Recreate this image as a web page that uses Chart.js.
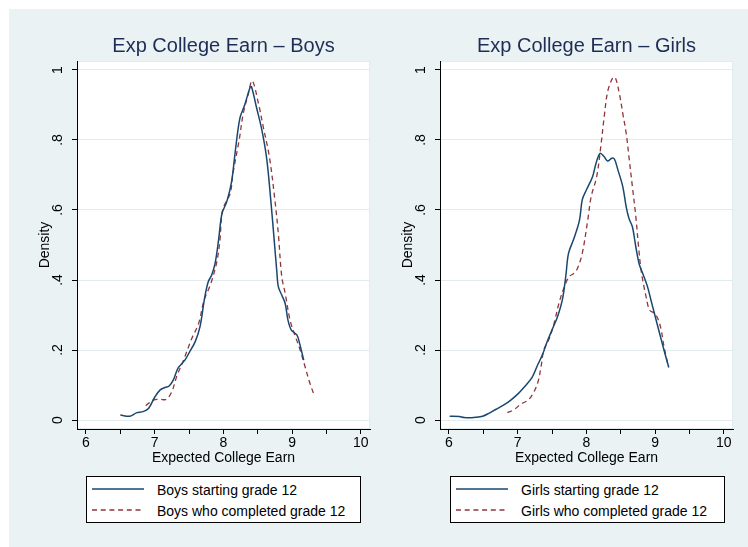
<!DOCTYPE html>
<html>
<head>
<meta charset="utf-8">
<script src="https://cdn.jsdelivr.net/npm/chart.js@4/dist/chart.umd.min.js"></script>
<style>
html,body{margin:0;padding:0;background:#fff;width:748px;height:547px;overflow:hidden;font-family:"Liberation Sans",Arial,sans-serif}
#bg{position:absolute;left:9px;top:9px;width:739px;height:538px;background:#EAF2F3}
canvas{position:absolute;top:9px}
.legend{position:absolute;top:476px;height:45px;width:273px;border:1px solid #000;background:#fff}
.legend svg{position:absolute;left:5px}
.legend span{position:absolute;left:70px;font-size:14px;line-height:16px;color:#000;white-space:nowrap}
</style>
</head>
<body>
<div id="bg"></div>
<canvas id="c1" width="365" height="461" style="left:9px"></canvas>
<canvas id="c2" width="365" height="461" style="left:372px"></canvas>
<div class="legend" id="lg1" style="left:86px"></div>
<div class="legend" id="lg2" style="left:450px"></div>
<script>
// ---------- data ----------
const panelTitles = ['Exp College Earn \u2013 Boys', 'Exp College Earn \u2013 Girls'];
const xAxisTitle = 'Expected College Earn';
const yAxisTitle = 'Density';
const xTickLabels = ['6', '7', '8', '9', '10'];
const yTickLabels = ['0', '.2', '.4', '.6', '.8', '1'];
const seriesLabels = [
  ['Boys starting grade 12', 'Boys who completed grade 12'],
  ['Girls starting grade 12', 'Girls who completed grade 12']
];

const boysStartX = [6.50, 6.64, 6.74, 6.83, 6.91, 7.00, 7.08, 7.15, 7.21, 7.27, 7.34, 7.44, 7.51, 7.59, 7.66, 7.73, 7.78, 7.83, 7.88, 7.93, 7.98, 8.05, 8.12, 8.17, 8.24, 8.31, 8.39, 8.41, 8.48, 8.56, 8.63, 8.69, 8.74, 8.78, 8.80, 8.85, 8.90, 8.94, 8.99, 9.07, 9.11, 9.17];
const boysStartY = [0.014, 0.011, 0.021, 0.024, 0.033, 0.065, 0.086, 0.093, 0.097, 0.114, 0.148, 0.171, 0.195, 0.224, 0.267, 0.352, 0.395, 0.414, 0.448, 0.514, 0.590, 0.624, 0.681, 0.762, 0.862, 0.900, 0.951, 0.952, 0.895, 0.829, 0.748, 0.629, 0.514, 0.420, 0.381, 0.357, 0.333, 0.286, 0.257, 0.243, 0.219, 0.171];

const boysDoneX = [6.87, 6.98, 7.08, 7.17, 7.25, 7.32, 7.42, 7.54, 7.64, 7.72, 7.80, 7.85, 7.91, 7.95, 7.99, 8.10, 8.14, 8.23, 8.29, 8.36, 8.42, 8.51, 8.58, 8.67, 8.75, 8.80, 8.85, 8.90, 8.97, 9.04, 9.11, 9.19, 9.26, 9.33];
const boysDoneY = [0.041, 0.057, 0.059, 0.059, 0.081, 0.124, 0.171, 0.233, 0.276, 0.343, 0.381, 0.410, 0.457, 0.514, 0.600, 0.648, 0.705, 0.800, 0.876, 0.929, 0.969, 0.905, 0.838, 0.752, 0.629, 0.533, 0.410, 0.362, 0.286, 0.243, 0.205, 0.152, 0.105, 0.067];

const girlsStartX = [6.01, 6.15, 6.22, 6.36, 6.49, 6.58, 6.68, 6.80, 6.90, 7.00, 7.09, 7.21, 7.29, 7.36, 7.43, 7.51, 7.58, 7.65, 7.70, 7.74, 7.82, 7.90, 7.94, 8.00, 8.09, 8.14, 8.20, 8.26, 8.31, 8.37, 8.41, 8.46, 8.53, 8.58, 8.62, 8.67, 8.72, 8.77, 8.82, 8.89, 8.94, 8.99, 9.06, 9.13, 9.20];
const girlsStartY = [0.011, 0.010, 0.007, 0.007, 0.011, 0.019, 0.030, 0.043, 0.057, 0.074, 0.093, 0.122, 0.157, 0.186, 0.224, 0.262, 0.295, 0.343, 0.410, 0.476, 0.519, 0.571, 0.629, 0.657, 0.695, 0.733, 0.762, 0.752, 0.740, 0.748, 0.745, 0.714, 0.667, 0.609, 0.576, 0.552, 0.495, 0.445, 0.419, 0.381, 0.343, 0.305, 0.252, 0.200, 0.150];

const girlsDoneX = [6.85, 6.95, 7.05, 7.14, 7.21, 7.29, 7.34, 7.38, 7.46, 7.53, 7.60, 7.68, 7.75, 7.82, 7.87, 7.94, 8.02, 8.07, 8.15, 8.21, 8.26, 8.31, 8.38, 8.42, 8.48, 8.53, 8.58, 8.62, 8.67, 8.72, 8.76, 8.79, 8.82, 8.87, 8.92, 8.99, 9.04, 9.09, 9.13, 9.19];
const girlsDoneY = [0.021, 0.030, 0.046, 0.055, 0.071, 0.105, 0.152, 0.200, 0.233, 0.276, 0.333, 0.381, 0.410, 0.419, 0.433, 0.476, 0.571, 0.638, 0.695, 0.781, 0.867, 0.938, 0.976, 0.979, 0.933, 0.876, 0.819, 0.752, 0.667, 0.581, 0.495, 0.438, 0.400, 0.352, 0.314, 0.305, 0.290, 0.257, 0.210, 0.157];

// ---------- styling ----------
const FONT = '"Liberation Sans", Arial, Helvetica, sans-serif';
Chart.defaults.font.family = FONT;
const NAVY = '#1A476F';
const MAROON = '#90353B';
const GRID = '#E2ECEE';
const TITLE_COLOR = '#1E2D55';
const DASH = [5, 3.7];

const toPts = (xs, ys) => xs.map((x, i) => ({x: x, y: ys[i]}));

const plotBg = {
  id: 'plotBg',
  beforeDraw(chart) {
    const a = chart.chartArea, ctx = chart.ctx;
    ctx.save();
    ctx.fillStyle = '#fff';
    ctx.fillRect(a.left, a.top, a.right - a.left, a.bottom - a.top);
    ctx.strokeStyle = GRID;
    ctx.lineWidth = 1;
    ctx.strokeRect(a.left + 0.5, a.top + 0.5, a.right - a.left - 1, a.bottom - a.top - 1);
    ctx.restore();
  }
};

function makeChart(id, title, labels, startPts, donePts) {
  return new Chart(document.getElementById(id), {
    type: 'line',
    data: {
      datasets: [
        {label: labels[0], data: startPts, borderColor: NAVY, borderWidth: 1.5, pointRadius: 0, tension: 0.35, fill: false},
        {label: labels[1], data: donePts, borderColor: MAROON, borderWidth: 1.3, borderDash: DASH, pointRadius: 0, tension: 0.35, fill: false}
      ]
    },
    options: {
      responsive: false,
      animation: false,
      devicePixelRatio: 1,
      layout: {padding: {left: 0, right: 4, top: 0, bottom: 0}},
      plugins: {
        legend: {display: false},
        tooltip: {enabled: false},
        title: {display: true, text: title, fullSize: false, color: TITLE_COLOR,
                font: {size: 20, weight: 'normal', family: FONT}, padding: {top: 25.4, bottom: 2.6}}
      },
      scales: {
        x: {
          type: 'linear', min: 5.869, max: 10.135,
          afterFit: s => { s.height = 41; },
          border: {display: true, color: '#000', width: 1},
          grid: {drawOnChartArea: false, drawTicks: true, tickLength: 5, tickColor: '#000', tickWidth: 1},
          ticks: {stepSize: 0.5, includeBounds: false, autoSkip: false, minRotation: 0, maxRotation: 0, padding: 1,
                  color: '#000', font: {size: 14, family: FONT},
                  callback: v => Math.abs(v - Math.round(v)) < 1e-6 ? xTickLabels[Math.round(v) - 6] : ''},
          title: {display: true, text: xAxisTitle, color: '#000', font: {size: 14, family: FONT}, padding: {top: 0, bottom: 3.4}}
        },
        y: {
          type: 'linear', min: -0.0257, max: 1.0257,
          afterFit: s => { s.width = 68; },
          border: {display: true, color: '#000', width: 1},
          grid: {color: GRID, lineWidth: 1, drawTicks: true, tickLength: 5, tickColor: '#000', tickWidth: 1},
          ticks: {stepSize: 0.2, includeBounds: false, minRotation: 90, maxRotation: 90, crossAlign: 'center', padding: 8,
                  color: '#000', font: {size: 14, family: FONT},
                  callback: v => yTickLabels[Math.round(v / 0.2)]},
          title: {display: true, text: yAxisTitle, color: '#000', font: {size: 14, family: FONT}, padding: {top: 27.6, bottom: 0}}
        }
      }
    },
    plugins: [plotBg]
  });
}

makeChart('c1', panelTitles[0], seriesLabels[0], toPts(boysStartX, boysStartY), toPts(boysDoneX, boysDoneY));
makeChart('c2', panelTitles[1], seriesLabels[1], toPts(girlsStartX, girlsStartY), toPts(girlsDoneX, girlsDoneY));

// ---------- boxed legends ----------
function buildLegend(id, labels) {
  const el = document.getElementById(id);
  const rows = [{y: 12, t: 4.6, color: NAVY, dash: null, w: 1.5}, {y: 33, t: 25.6, color: MAROON, dash: DASH, w: 1.3}];
  rows.forEach((r, i) => {
    const svg = document.createElementNS('http://www.w3.org/2000/svg', 'svg');
    svg.setAttribute('width', '53'); svg.setAttribute('height', '6');
    svg.style.top = (r.y - 3) + 'px';
    const ln = document.createElementNS('http://www.w3.org/2000/svg', 'line');
    ln.setAttribute('x1', '0'); ln.setAttribute('x2', '52');
    ln.setAttribute('y1', '3'); ln.setAttribute('y2', '3');
    ln.setAttribute('stroke', r.color); ln.setAttribute('stroke-width', String(r.w));
    if (r.dash) ln.setAttribute('stroke-dasharray', r.dash.join(' '));
    svg.appendChild(ln);
    el.appendChild(svg);
    const sp = document.createElement('span');
    sp.textContent = labels[i];
    sp.style.top = r.t + 'px';
    el.appendChild(sp);
  });
}
buildLegend('lg1', seriesLabels[0]);
buildLegend('lg2', seriesLabels[1]);
</script>
</body>
</html>
